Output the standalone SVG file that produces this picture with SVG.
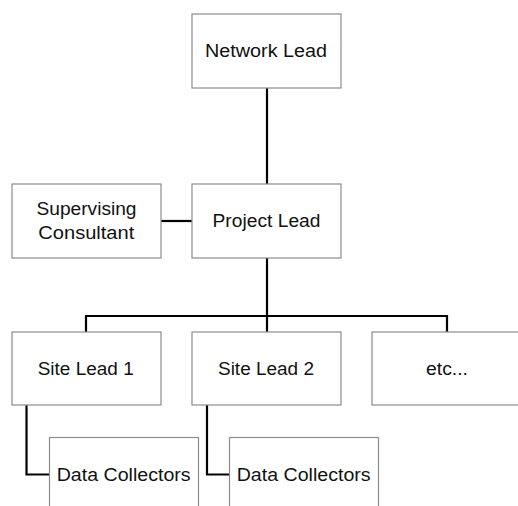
<svg xmlns="http://www.w3.org/2000/svg" width="518" height="506" viewBox="0 0 518 506">
<style>
.box{fill:#fff;stroke:#8c8c8c;stroke-width:1.2}
.lbl{font-family:"Liberation Sans",Arial,sans-serif;font-size:17.5px;fill:#111;text-anchor:middle}
.con{fill:none;stroke:#000;stroke-width:2.2}
</style>
<rect width="518" height="506" fill="#fff"/>
<g id="connectors">
<line class="con" x1="267" y1="88" x2="267" y2="184"/>
<line class="con" x1="161" y1="221" x2="192" y2="221"/>
<line class="con" x1="267" y1="258" x2="267" y2="332"/>
<polyline class="con" points="86,332 86,316 447,316 447,332"/>
<polyline class="con" points="26.5,405 26.5,474.5 49,474.5"/>
<polyline class="con" points="207,405 207,474.5 229,474.5"/>
</g>
<g id="network-lead">
<rect class="box" x="192" y="14" width="149" height="74"/>
<text class="lbl" x="266" y="57" textLength="122" lengthAdjust="spacingAndGlyphs">Network Lead</text>
</g>
<g id="supervising-consultant">
<rect class="box" x="12" y="184" width="149" height="74"/>
<text class="lbl" x="86.5" y="215" textLength="100" lengthAdjust="spacingAndGlyphs">Supervising</text>
<text class="lbl" x="86.3" y="238.5" textLength="96" lengthAdjust="spacingAndGlyphs">Consultant</text>
</g>
<g id="project-lead">
<rect class="box" x="192" y="184" width="149" height="74"/>
<text class="lbl" x="266.5" y="227" textLength="108" lengthAdjust="spacingAndGlyphs">Project Lead</text>
</g>
<g id="site-lead-1">
<rect class="box" x="12" y="332" width="149" height="73"/>
<text class="lbl" x="85.7" y="375" textLength="96" lengthAdjust="spacingAndGlyphs">Site Lead 1</text>
</g>
<g id="site-lead-2">
<rect class="box" x="192" y="332" width="149" height="73"/>
<text class="lbl" x="266" y="375" textLength="96" lengthAdjust="spacingAndGlyphs">Site Lead 2</text>
</g>
<g id="etc">
<rect class="box" x="372" y="332" width="149" height="73"/>
<text class="lbl" x="447" y="375" textLength="42" lengthAdjust="spacingAndGlyphs">etc...</text>
</g>
<g id="data-collectors-1">
<rect class="box" x="49.5" y="437.5" width="149" height="74"/>
<text class="lbl" x="123.7" y="481" textLength="134" lengthAdjust="spacingAndGlyphs">Data Collectors</text>
</g>
<g id="data-collectors-2">
<rect class="box" x="229.5" y="437.5" width="149" height="74"/>
<text class="lbl" x="303.7" y="481" textLength="134" lengthAdjust="spacingAndGlyphs">Data Collectors</text>
</g>
</svg>
